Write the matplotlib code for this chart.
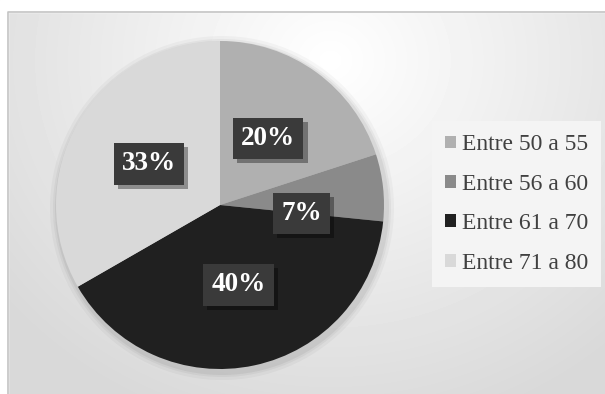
import numpy as np
import matplotlib
matplotlib.use("Agg")
import matplotlib.pyplot as plt
import matplotlib.patheffects as pe
from matplotlib.patches import Rectangle, Circle

labels = ["Entre 50 a 55", "Entre 56 a 60", "Entre 61 a 70", "Entre 71 a 80"]
values = [20.0, 6.6, 40.1, 33.3]
colors = ["#b0b0b0", "#8a8a8a", "#202020", "#d9d9d9"]

W, H = 605, 394
fig = plt.figure(figsize=(W / 100, H / 100), dpi=100)

# background: soft radial gradient, white near top, grey at the corners
bg = fig.add_axes([0, 0, 1, 1], zorder=-10)
yy, xx = np.mgrid[0:H, 0:W]
d = np.sqrt(((xx - 330) / 420.0) ** 2 + ((yy - 60) / 380.0) ** 2)
shade = 1.0 - 0.15 * np.clip(d, 0, 1)
bg.imshow(shade, cmap="gray", vmin=0, vmax=1, extent=[0, W, H, 0], aspect="auto")
bg.add_patch(Rectangle((0, 0), W, 12, color="white"))
bg.add_patch(Rectangle((0, 0), 8, H, color="white"))
bg.plot([8, 8, W], [H, 12, 12], color="#c4c4c4", lw=1.2)
# shadow round the pie
for r, a in [(172, 0.03), (169, 0.04), (167, 0.05)]:
    bg.add_patch(Circle((222, 208), r, color="black", alpha=a, lw=0))
bg.set_xlim(0, W)
bg.set_ylim(H, 0)
bg.axis("off")

ax = fig.add_axes([56 / W, (H - 369) / H, 328 / W, 328 / H])
wedges, _ = ax.pie(values, colors=colors, startangle=90, counterclock=False,
                   wedgeprops=dict(linewidth=0))
ax.set_xlim(-1, 1)
ax.set_ylim(-1, 1)
ax.set_aspect("equal")

# data labels in dark boxes, half-way out along each wedge
nudge = [0, -12, 1, 0]
start = 90.0
for v, w, n in zip(values, wedges, nudge):
    mid = np.deg2rad(start - v * 3.6 / 2 + n)
    start -= v * 3.6
    t = ax.text(0.5 * np.cos(mid), 0.5 * np.sin(mid), f"{round(v)}%",
                ha="center", va="center", color="white", fontsize=19.5,
                fontweight="bold", family="Liberation Serif",
                bbox=dict(boxstyle="square,pad=0.3", fc="#3a3a3a", ec="none"))
    t.get_bbox_patch().set_path_effects(
        [pe.SimplePatchShadow(offset=(3, -3), shadow_rgbFace="black", alpha=0.35),
         pe.Normal()])

leg = fig.legend(wedges, labels, loc="center left", bbox_to_anchor=(432 / W, 1 - 204 / H),
                 prop=dict(family="Liberation Serif", size=17), labelcolor="#404040",
                 frameon=True, fancybox=False, framealpha=1, facecolor="#f4f4f4",
                 edgecolor="none", handlelength=0.45, handleheight=0.45,
                 handletextpad=0.25, labelspacing=0.78, borderpad=0.55,
                 borderaxespad=0)

fig.savefig("out.png", dpi=100)
